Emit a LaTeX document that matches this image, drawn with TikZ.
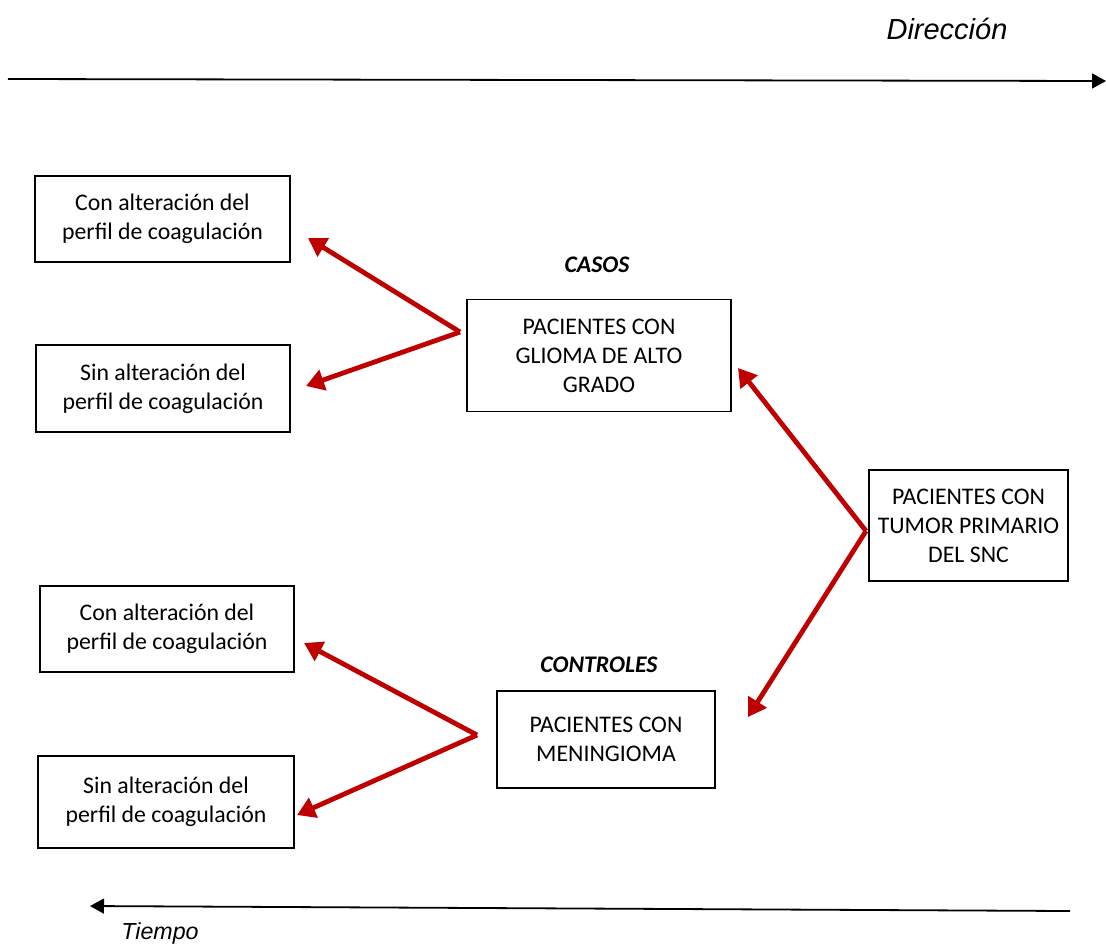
\documentclass[tikz,border=0pt]{standalone}
\usepackage{fontspec}
\setmainfont{Carlito}
\newfontfamily\arialfont{Liberation Sans}
\usetikzlibrary{arrows.meta}
\begin{document}
\begin{tikzpicture}[x=0.5pt,y=-0.5pt,
  caja/.style={draw=black, line width=0.8pt, align=center, font=\fontsize{11.9}{14.5}\selectfont},
  flecha/.style={draw=red!75!black, line width=2.4pt, -{Triangle[length=9pt,width=10.5pt]}},
  eje/.style={draw=black, line width=0.9pt, -{Triangle[length=7pt,width=7.5pt]}},
  titulo/.style={font=\fontsize{11.9}{13}\selectfont\bfseries\itshape},
  rotulo/.style={font=\arialfont\fontsize{14.5}{16}\selectfont\itshape}]
\useasboundingbox (0,0) rectangle (1106,944);
% ejes
\coordinate (d0) at (8,79);
\coordinate (d1) at (1106,81);
\draw[eje] (d0) -- (d1);
\node[rotulo] (dir) at (947,29) {Dirección};
\coordinate (t0) at (1070,911);
\coordinate (t1) at (90,906);
\draw[eje] (t0) -- (t1);
\node[rotulo, font=\arialfont\fontsize{11.6}{13}\selectfont\itshape] (tiempo) at (160,933) {Tiempo};
% cajas
\node[caja, minimum width=127.5pt, minimum height=43pt] (a1) at (162.5,219) {Con alteración del\\perfil de coagulación};
\node[caja, minimum width=127pt, minimum height=43.5pt] (a2) at (163,388.5) {Sin alteración del\\perfil de coagulación};
\node[caja, minimum width=132pt, minimum height=56pt] (casos) at (599,355.5) {PACIENTES CON\\GLIOMA DE ALTO\\GRADO};
\node[titulo] (tcasos) at (597,265) {CASOS};
\node[caja, minimum width=99.5pt, minimum height=55.5pt] (tumor) at (968.5,525.5) {PACIENTES CON\\TUMOR PRIMARIO\\DEL SNC};
\node[caja, minimum width=127pt, minimum height=43pt] (b1) at (167,629) {Con alteración del\\perfil de coagulación};
\node[caja, minimum width=128pt, minimum height=46pt] (b2) at (166,802) {Sin alteración del\\perfil de coagulación};
\node[caja, minimum width=109pt, minimum height=48.5pt] (menin) at (606,739.5) {PACIENTES CON\\MENINGIOMA};
\node[titulo] (tcontrol) at (599,665) {CONTROLES};
% flechas
\coordinate (pc) at (460,332);
\coordinate (pt) at (866,531);
\coordinate (pm) at (477,735);
\coordinate (fa1) at (308,238);
\coordinate (fa2) at (306,386);
\coordinate (fc) at (738,368);
\coordinate (fm) at (748,717);
\coordinate (fb1) at (304,643);
\coordinate (fb2) at (297,815);
\draw[flecha] (pc) -- (fa1);
\draw[flecha] (pc) -- (fa2);
\draw[flecha] (pt) -- (fc);
\draw[flecha] (pt) -- (fm);
\draw[flecha] (pm) -- (fb1);
\draw[flecha] (pm) -- (fb2);
\end{tikzpicture}
\end{document}
